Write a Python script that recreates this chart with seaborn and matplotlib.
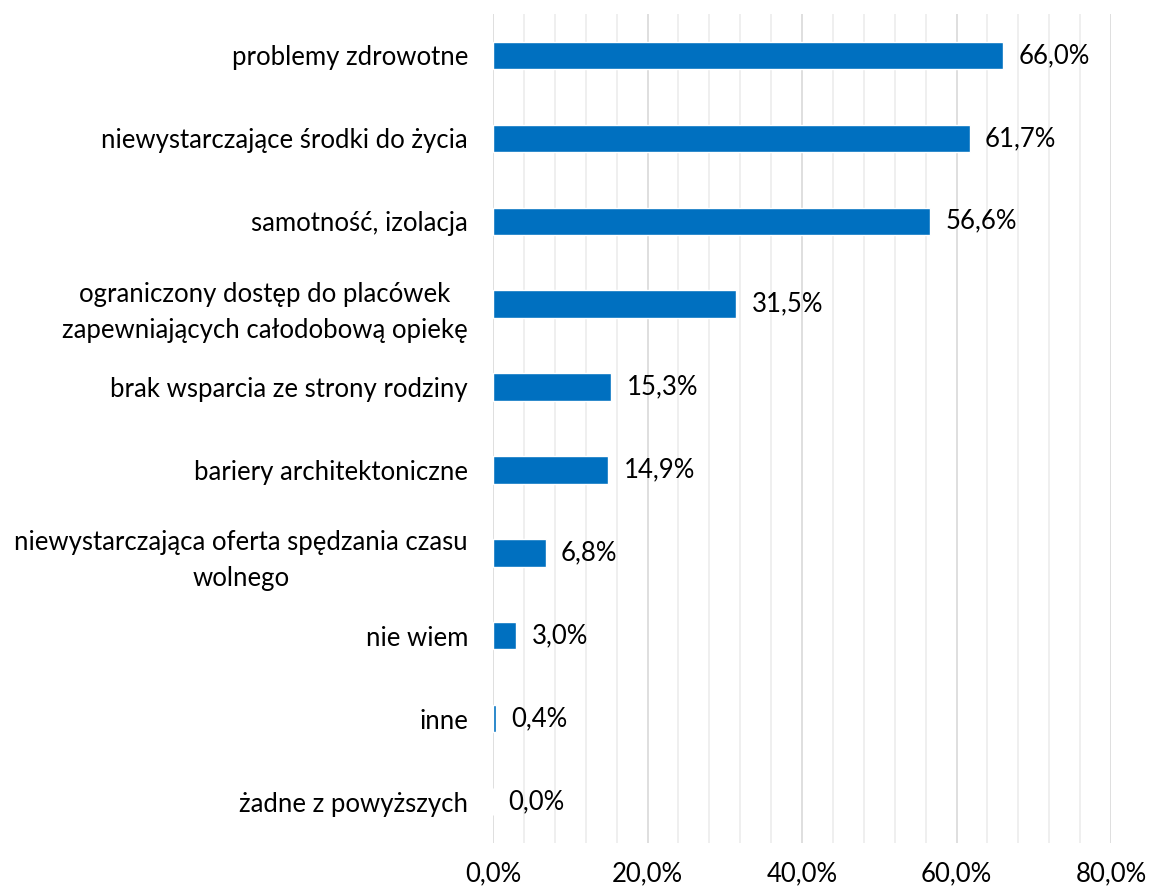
import matplotlib
matplotlib.use("Agg")
import matplotlib.pyplot as plt
import seaborn as sns
import pandas as pd
from matplotlib.ticker import MultipleLocator, FuncFormatter

categories = [
    "problemy zdrowotne",
    "niewystarczające środki do życia",
    "samotność, izolacja",
    "ograniczony dostęp do placówek\nzapewniających całodobową opiekę",
    "brak wsparcia ze strony rodziny",
    "bariery architektoniczne",
    "niewystarczająca oferta spędzania czasu\nwolnego",
    "nie wiem",
    "inne",
    "żadne z powyższych",
]
values = [66.0, 61.7, 56.6, 31.5, 15.3, 14.9, 6.8, 3.0, 0.4, 0.0]

df = pd.DataFrame({"cat": categories, "val": values})

sns.set_style("white")
plt.rcParams["font.family"] = ["Lato", "DejaVu Sans"]

fig = plt.figure(figsize=(11.51, 8.94), dpi=100)
ax = fig.add_axes([493 / 1151, 1 - 843 / 894, (1111 - 493) / 1151, (843 - 14) / 894])

sns.barplot(data=df, x="val", y="cat", color="#0070C0", saturation=1,
            width=0.33, ax=ax, orient="h")

ax.set_xlim(0, 80)
ax.set_ylim(9.5, -0.5)
ax.xaxis.set_major_locator(MultipleLocator(20))
ax.xaxis.set_minor_locator(MultipleLocator(4))
ax.xaxis.set_major_formatter(FuncFormatter(lambda v, p: f"{v:.1f}%".replace(".", ",")))
ax.grid(axis="x", which="major", color="#d9d9d9", linewidth=1.2)
ax.grid(axis="x", which="minor", color="#ececec", linewidth=1.2)
ax.set_axisbelow(True)
for s in ax.spines.values():
    s.set_visible(False)
ax.tick_params(axis="x", which="both", length=0, pad=13, labelsize=18.5, labelcolor="#000000")
ax.tick_params(axis="y", length=0, pad=18, labelsize=18.5, labelcolor="#000000")
for lab in ax.get_yticklabels():
    lab.set_multialignment("center")
    lab.set_linespacing(1.55)
ax.set_xlabel("")
ax.set_ylabel("")

for i, v in enumerate(values):
    ax.text(v + 2.0, i, f"{v:.1f}%".replace(".", ","), va="center", ha="left",
            fontsize=18.5, color="#000000")

fig.savefig("out.png", dpi=100)
